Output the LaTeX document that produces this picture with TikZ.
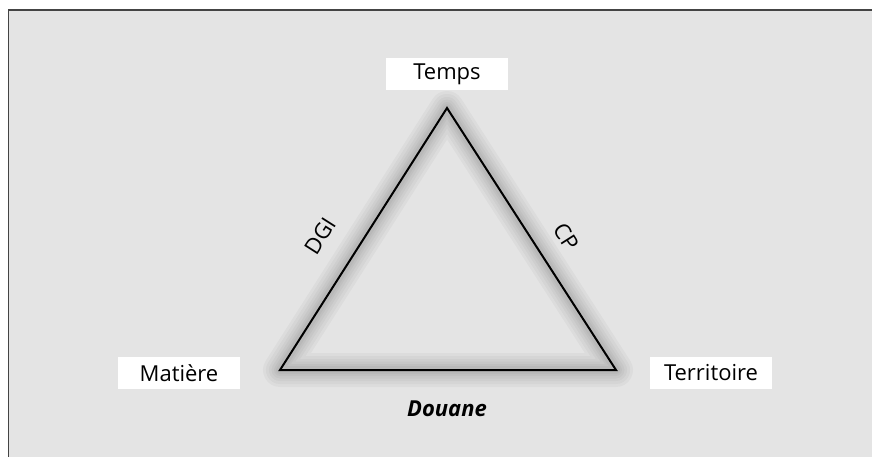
\documentclass[tikz,border=0pt]{standalone}
\usepackage{fontspec}
\setmainfont{Open Sans}
\definecolor{panel}{HTML}{E4E4E4}
\definecolor{frame}{HTML}{444444}

\begin{document}
\begin{tikzpicture}[x=1pt,y=-1pt,line width=2,
	corner/.style={fill=white,minimum width=122,minimum height=32,inner sep=0,font=\fontsize{22}{24}\selectfont},
	side/.style={font=\fontsize{22}{24}\selectfont}]
			\useasboundingbox (0,0) rectangle (872,457);
			\begin{scope}
			\clip (0,0) rectangle (872,457);
			\draw[frame,fill=panel,line width=1.5] (8.5,10) rectangle (890,480);
			\end{scope}
			\coordinate (top) at (447,108);
			\coordinate (left) at (280,370);
			\coordinate (right) at (616,370);
			% soft glow round the triangle
			\foreach \w in {34,28,22,17,12,8}
				\draw[black,opacity=0.03,line width=\w,line join=round] (top)--(right)--(left)--cycle;
			\draw[line join=miter] (top)--(right)--(left)--cycle;
			\node[corner] (temps) at (447,74) {Temps};
			\node[corner] (matiere) at (179,373) {Matière};
			\node[corner] (territoire) at (711,373) {Territoire};
			\node[side,rotate=57.5] (dgi) at (320,236) {DGI};
			\node[side,rotate=-57.5] (cp) at (566,237) {CP};
			\node[side,font=\fontsize{22}{24}\selectfont\bfseries\itshape] (douane) at (447,409) {Douane};
		\end{tikzpicture}
\end{document}
